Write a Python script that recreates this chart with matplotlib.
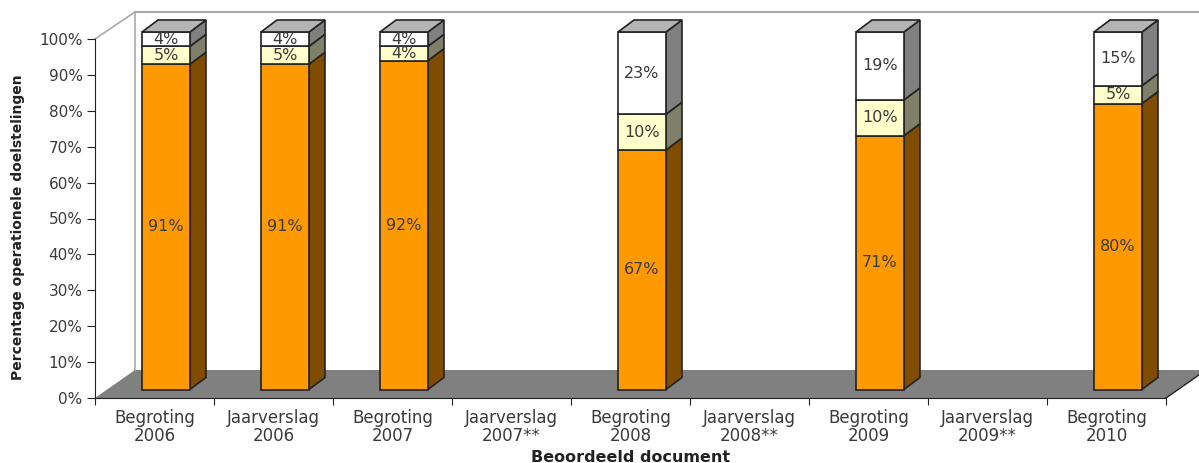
import matplotlib
matplotlib.use('Agg')
import matplotlib.pyplot as plt
from matplotlib.patches import Polygon

categories = ['Begroting\n2006', 'Jaarverslag\n2006', 'Begroting\n2007', 'Jaarverslag\n2007**',
              'Begroting\n2008', 'Jaarverslag\n2008**', 'Begroting\n2009', 'Jaarverslag\n2009**',
              'Begroting\n2010']
bar_pos = [0, 1, 2, 4, 6, 8]
orange_vals = [91, 91, 92, 67, 71, 80]
yellow_vals = [5, 5, 4, 10, 10, 5]
white_vals = [4, 4, 4, 23, 19, 15]

TEXT = '#3a3a3a'
EDGE = '#222222'
W, H = 1199, 463
X0, X1, Y0, Y100 = 95, 1166, 398, 39

# 1 category = 119px, 1% = 3.59px
px_x = 9 / (X1 - X0)
px_y = 100 / (Y0 - Y100)
wall_dx, wall_dy = 40 * px_x, 27 * px_y
side_dx, side_dy = 16 * px_x, 12 * px_y
bar_left, bar_right = 0.395, 0.798
bar_base = 8.5 * px_y
bar_scale = 357.5 / 359


def box(ax, x, bottom, top, colors, label=None):
    l, r = x + bar_left, x + bar_right
    b, t = bar_base + bottom * bar_scale, bar_base + top * bar_scale
    front, side = colors
    ax.add_patch(Polygon([(r, b), (r + side_dx, b + side_dy), (r + side_dx, t + side_dy), (r, t)],
                         fc=side, ec=EDGE, lw=1.2, clip_on=False, zorder=3))
    ax.add_patch(Polygon([(l, b), (r, b), (r, t), (l, t)],
                         fc=front, ec=EDGE, lw=1.2, clip_on=False, zorder=4))
    if label:
        ax.text((l + r) / 2, (b + t) / 2, label, ha='center', va='center',
                fontsize=11.5, color=TEXT, zorder=5)
    return l, r, t


fig = plt.figure(figsize=(W / 100, H / 100), dpi=100, facecolor='white')
ax = fig.add_axes([X0 / W, 1 - Y0 / H, (X1 - X0) / W, (Y0 - Y100) / H])
ax.set_xlim(0, 9)
ax.set_ylim(0, 100)
ax.patch.set_alpha(0)

# back wall and floor
floor = [(0, 0), (9, 0), (9 + 40 * px_x, 28 * px_y), (wall_dx, 28 * px_y)]
ax.add_patch(Polygon(floor, fc='#808080', ec='none', clip_on=False, zorder=1))
ax.plot([0, wall_dx, wall_dx], [100, 100 + wall_dy, 28 * px_y], color='#aaaaaa', lw=1.2,
        clip_on=False, zorder=1)
ax.plot([wall_dx, 9 + 40 * px_x], [100 + wall_dy] * 2, color='#aaaaaa', lw=1.5, clip_on=False, zorder=1)
ax.plot([9, 9 + 40 * px_x], [0, 28 * px_y], color=EDGE, lw=1, clip_on=False, zorder=2)

for i, x in enumerate(bar_pos):
    a, b, c = orange_vals[i], yellow_vals[i], white_vals[i]
    box(ax, x, 0, a, ('#ff9900', '#7f4c00'), '%d%%' % a)
    box(ax, x, a, a + b, ('#ffffcc', '#80806a'), '%d%%' % b)
    l, r, t = box(ax, x, a + b, a + b + c, ('#ffffff', '#808080'), '%d%%' % c)
    ax.add_patch(Polygon([(l, t), (r, t), (r + side_dx, t + side_dy), (l + side_dx, t + side_dy)],
                         fc='#b4b4b4', ec=EDGE, lw=1.2, clip_on=False, zorder=4))

ax.spines['top'].set_visible(False)
ax.spines['right'].set_visible(False)
ax.spines['left'].set_color(EDGE)
ax.spines['bottom'].set_color(EDGE)
ax.spines['left'].set_zorder(6)
ax.spines['bottom'].set_zorder(6)

ax.set_yticks(range(0, 101, 10))
ax.set_yticklabels(['%d%%' % v for v in range(0, 101, 10)], fontsize=11, color=TEXT)
ax.set_xticks(range(0, 10))
ax.set_xticklabels([])
ax.set_xticks([i + 0.5 for i in range(9)], minor=True)
ax.set_xticklabels(categories, minor=True, fontsize=12, color=TEXT, linespacing=1.0)
ax.tick_params(axis='x', which='major', length=5, color=EDGE)
ax.tick_params(axis='x', which='minor', length=0, pad=8)
ax.tick_params(axis='y', length=6, color=EDGE, pad=3)

fig.text(631 / W, 1 - 457 / H, 'Beoordeeld document', ha='center', va='center',
         fontsize=11.5, fontweight='bold', color='#222222')
fig.text(18 / W, 1 - 227 / H, 'Percentage operationele doelstelingen', ha='center', va='center',
         rotation=90, fontsize=10, fontweight='bold', color='#222222')

fig.savefig('out.png', dpi=100)
